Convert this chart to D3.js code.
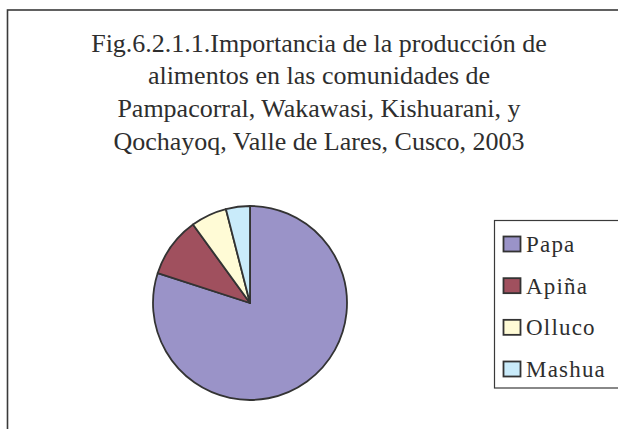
<!DOCTYPE html>
<html lang="es">
<head>
<meta charset="utf-8">
<title>Importancia de la producción de alimentos</title>
<style>
  body { margin: 0; background: #fff; }
  svg text { font-family: "Liberation Serif", "DejaVu Serif", serif; }
</style>
</head>
<body>
<script src="https://d3js.org/d3.v7.min.js"></script>
<script>
// data (percent of production)
var categories = ["Papa", "Apiña", "Olluco", "Mashua"];
var values = [80, 10, 6, 4];
var colors = ["#9a93c8", "#a0505e", "#fffbd6", "#c9ebfa"];
var titleLines = [
  "Fig.6.2.1.1.Importancia de la producción de",
  "alimentos en las comunidades de",
  "Pampacorral, Wakawasi, Kishuarani, y",
  "Qochayoq, Valle de Lares, Cusco, 2003"
];

var w = 618, h = 429;
var svg = d3.select("body").append("svg")
  .attr("width", w)
  .attr("height", h)
  .style("display", "block");

// chart frame (runs off the right and bottom edge)
svg.append("rect")
  .attr("x", 7.5).attr("y", 10)
  .attr("width", 640).attr("height", 440)
  .attr("fill", "#fff")
  .attr("stroke", "#3a3a3a")
  .attr("stroke-width", 1.6);

// title
svg.append("g").selectAll("text")
  .data(titleLines)
  .join("text")
  .attr("x", 319)
  .attr("y", function(d, i) { return 51.5 + i * 32.8; })
  .attr("text-anchor", "middle")
  .attr("font-family", "Liberation Serif")
  .attr("font-size", 26)
  .attr("fill", "#2e2e2e")
  .text(function(d) { return d; });

// pie
var color = d3.scaleOrdinal().domain(categories).range(colors);
var pie = d3.pie().sort(null).value(function(d) { return d.value; });
var arc = d3.arc().innerRadius(0).outerRadius(97);

var data = categories.map(function(c, i) { return { name: c, value: values[i] }; });

svg.append("g")
  .attr("transform", "translate(250,303)")
  .selectAll("path")
  .data(pie(data))
  .join("path")
  .attr("d", arc)
  .attr("fill", function(d) { return color(d.data.name); })
  .attr("stroke", "#333")
  .attr("stroke-width", 1.8)
  .attr("stroke-linejoin", "round");

// legend
var legend = svg.append("g");
legend.append("rect")
  .attr("x", 494.5).attr("y", 220.5)
  .attr("width", 140).attr("height", 167.5)
  .attr("fill", "#fff")
  .attr("stroke", "#3a3a3a")
  .attr("stroke-width", 1.2);

var ly = d3.scalePoint().domain(categories).range([252, 377]);

var items = legend.selectAll("g.item")
  .data(categories)
  .join("g")
  .attr("class", "item")
  .attr("transform", function(d) { return "translate(0," + ly(d) + ")"; });

items.append("rect")
  .attr("x", 503.5).attr("y", -15.5)
  .attr("width", 17).attr("height", 15)
  .attr("fill", function(d) { return color(d); })
  .attr("stroke", "#333")
  .attr("stroke-width", 1.8);

items.append("text")
  .attr("x", 526)
  .attr("y", 0)
  .attr("font-family", "Liberation Serif")
  .attr("font-size", 23)
  .attr("letter-spacing", 1.2)
  .attr("fill", "#2e2e2e")
  .text(function(d) { return d; });
</script>
</body>
</html>
